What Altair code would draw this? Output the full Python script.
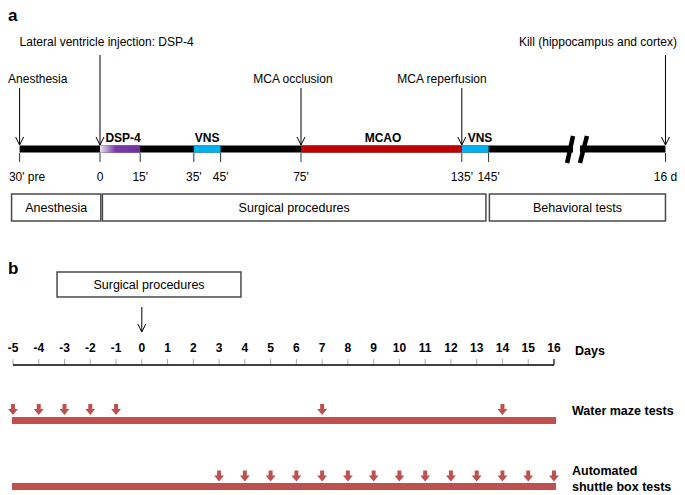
import altair as alt
import pandas as pd

FONT = "Liberation Sans"
W, H = 669, 487

# ---------------- panel a: minutes relative to DSP-4 injection (16 d shown after an axis break)
A_DOMAIN = [-34.33, 215.3]
A_TICKS = [0, 15, 35, 45, 75, 135, 145, 211]
A_TICK_LABELS = ["0", "15'", "35'", "45'", "75'", "135'", "145'", "16 d"]
A_FIRST_TICK = -30
A_FIRST_TICK_LABEL = "30' pre"
A_FIRST_TICK_LABEL_AT = -34.0
A_LINE = [(-30, 176.5), (179.1, 211)]
A_SEGMENTS = ["VNS", "MCAO", "VNS"]
A_SEG_START = [35, 75, 135]
A_SEG_END = [45, 135, 145]
A_SEG_COLORS = ["#00B0F0", "#C00000", "#00B0F0"]
A_DSP = (0, 15)
A_SEG_LABELS = ["DSP-4", "VNS", "MCAO", "VNS"]
A_SEG_LABEL_AT = [8.6, 40, 105.6, 141.8]
A_EVENTS = ["Anesthesia", "Lateral ventricle injection: DSP-4", "MCA occlusion",
            "MCA reperfusion", "Kill (hippocampus and cortex)"]
A_EVENT_AT = [-30, 0, 75, 135, 211]
A_EVENT_LABEL_AT = [-34.3, -30, 72, 127.6, 215.3]
A_EVENT_ALIGN = ["left", "left", "center", "center", "right"]
A_EVENT_LEVEL = ["low", "high", "low", "low", "high"]
A_PHASES = ["Anesthesia", "Surgical procedures", "Behavioral tests"]
A_PHASE_START = [-33, 0.9, 145.3]
A_PHASE_END = [0.3, 144, 211]
A_BREAK_TOP = [176.5, 181.7]
A_BREAK_BOTTOM = [174.3, 179.1]

# ---------------- panel b: days relative to surgery
B_DOMAIN = [-5.194, 20.776]
B_DAYS = list(range(-5, 17))
WATER_MAZE_DAYS = [-5, -4, -3, -2, -1, 7, 14]
SHUTTLE_DAYS = list(range(3, 17))
B_BAR = (-5.04, 16.08)
B_BOX = ("Surgical procedures", -3.29, 3.85)
B_ROW_LABEL_AT = 16.7

# ---------------- vertical layout (rows, px from top of page)
Y_DOMAIN = [8, 495]
ROW = dict(
    a_label=16, ev_high_text=42, ev_high_top=55, ev_low_text=79, ev_low_top=88,
    a_tip=145, seg_label=137.5, bar_top=145.5, bar_bot=152.5,
    tick_top=153, tick_bot=162, tick_label=177, brk_top=136, brk_bot=163,
    box_top=194, box_bot=221, box_text=208,
    b_label=269, b_box_top=272, b_box_bot=297, b_box_text=284.5,
    b_arrow_top=307, b_arrow_tip=332, day_label=348, axis=365, axis_tick=359,
    wm_top=417, wm_bot=424, wm_arrow=409.5, wm_text=411,
    sb_top=483, sb_bot=490, sb_arrow=476, sb_text1=471, sb_text2=487,
)

xa = alt.Scale(domain=A_DOMAIN, nice=False, zero=False)
xb = alt.Scale(domain=B_DOMAIN, nice=False, zero=False)
ys = alt.Scale(domain=Y_DOMAIN, reverse=True, nice=False, zero=False)


def X(field, sc):
    return alt.X(f"{field}:Q", scale=sc, axis=None)


def X2(field):
    return alt.X2(f"{field}:Q")


def Y(field):
    return alt.Y(f"{field}:Q", scale=ys, axis=None)


def Y2(field):
    return alt.Y2(f"{field}:Q")


def text_layer(df, sc, align="center", size=12, weight="normal"):
    return alt.Chart(df).mark_text(font=FONT, fontSize=size, fontWeight=weight, align=align,
                                   baseline="middle", color="black").encode(
        x=X("x", sc), y=Y("y"), text="t:N")


V_HEAD = "M-1,-2L0,0L1,-2"
BLOCK_ARROW = "M-0.36,-1L0.36,-1L0.36,-0.1L0.9,-0.1L0,1L-0.9,-0.1L-0.36,-0.1Z"
RED = "#C0504D"

layers = []

# ===== panel a =====
layers.append(text_layer(pd.DataFrame({"x": [A_DOMAIN[0]], "y": [ROW["a_label"]], "t": ["a"]}),
                         xa, "left", 17, "bold"))

# event arrows
ev = pd.DataFrame({"t": A_EVENTS, "x": A_EVENT_AT, "lx": A_EVENT_LABEL_AT,
                   "align": A_EVENT_ALIGN, "level": A_EVENT_LEVEL})
ev["top"] = [ROW["ev_high_top"] if l == "high" else ROW["ev_low_top"] for l in ev["level"]]
ev["ty"] = [ROW["ev_high_text"] if l == "high" else ROW["ev_low_text"] for l in ev["level"]]
ev["tip"] = ROW["a_tip"]
layers.append(alt.Chart(ev).mark_rule(color="black", strokeWidth=1).encode(
    x=X("x", xa), y=Y("top"), y2=Y2("tip")))
layers.append(alt.Chart(ev).mark_point(shape=V_HEAD, filled=False, color="black", strokeWidth=1,
                                       size=64, opacity=1).encode(x=X("x", xa), y=Y("tip")))
for al in ["left", "center", "right"]:
    sub = ev[ev["align"] == al]
    layers.append(text_layer(pd.DataFrame({"x": sub["lx"], "y": sub["ty"], "t": sub["t"]}), xa, al))

# main black line (with break)
line = pd.DataFrame({"x": [a for a, b in A_LINE], "x2": [b for a, b in A_LINE],
                     "y": ROW["bar_top"], "y2": ROW["bar_bot"]})
layers.append(alt.Chart(line).mark_rect(color="black").encode(
    x=X("x", xa), x2=X2("x2"), y=Y("y"), y2=Y2("y2")))

# DSP-4 gradient
grad = alt.LinearGradient(gradient="linear", x1=0, x2=1, y1=0, y2=0, stops=[
    alt.GradientStop(color="#E8E4F4", offset=0),
    alt.GradientStop(color="#7B3BAE", offset=0.38),
    alt.GradientStop(color="#7030A0", offset=1)])
dsp = pd.DataFrame({"x": [A_DSP[0]], "x2": [A_DSP[1]], "y": [ROW["bar_top"]], "y2": [ROW["bar_bot"]]})
layers.append(alt.Chart(dsp).mark_rect(color=grad).encode(
    x=X("x", xa), x2=X2("x2"), y=Y("y"), y2=Y2("y2")))

seg = pd.DataFrame({"s": A_SEGMENTS, "x": A_SEG_START, "x2": A_SEG_END, "c": A_SEG_COLORS,
                    "y": ROW["bar_top"], "y2": ROW["bar_bot"]})
layers.append(alt.Chart(seg).mark_rect().encode(
    x=X("x", xa), x2=X2("x2"), y=Y("y"), y2=Y2("y2"),
    color=alt.Color("c:N", scale=None)))

layers.append(text_layer(pd.DataFrame({"x": A_SEG_LABEL_AT, "y": ROW["seg_label"], "t": A_SEG_LABELS}),
                         xa, "center", 12, "bold"))

# axis break slashes
brk = pd.DataFrame({"x": A_BREAK_TOP, "x2": A_BREAK_BOTTOM, "y": ROW["brk_top"], "y2": ROW["brk_bot"]})
layers.append(alt.Chart(brk).mark_rule(color="black", strokeWidth=4.5).encode(
    x=X("x", xa), x2=X2("x2"), y=Y("y"), y2=Y2("y2")))

# ticks and tick labels
tk = pd.DataFrame({"x": [A_FIRST_TICK] + A_TICKS, "y": ROW["tick_top"], "y2": ROW["tick_bot"]})
layers.append(alt.Chart(tk).mark_rule(color="#333333", strokeWidth=1).encode(
    x=X("x", xa), y=Y("y"), y2=Y2("y2")))
layers.append(text_layer(pd.DataFrame({"x": A_TICKS, "y": ROW["tick_label"], "t": A_TICK_LABELS}), xa))
layers.append(text_layer(pd.DataFrame({"x": [A_FIRST_TICK_LABEL_AT], "y": [ROW["tick_label"]],
                                       "t": [A_FIRST_TICK_LABEL]}), xa, "left"))

# phase boxes
ph = pd.DataFrame({"t": A_PHASES, "x": A_PHASE_START, "x2": A_PHASE_END,
                   "y": ROW["box_top"], "y2": ROW["box_bot"]})
ph["cx"] = (ph["x"] + ph["x2"]) / 2
ph["ty"] = ROW["box_text"]
layers.append(alt.Chart(ph).mark_rect(fill="white", stroke="#4a4a4a", strokeWidth=1.5).encode(
    x=X("x", xa), x2=X2("x2"), y=Y("y"), y2=Y2("y2")))
layers.append(alt.Chart(ph).mark_text(font=FONT, fontSize=12.5, baseline="middle", color="black").encode(
    x=X("cx", xa), y=Y("ty"), text="t:N"))

# ===== panel b =====
layers.append(text_layer(pd.DataFrame({"x": [B_DOMAIN[0]], "y": [ROW["b_label"]], "t": ["b"]}),
                         xb, "left", 17, "bold"))
bb = pd.DataFrame({"t": [B_BOX[0]], "x": [B_BOX[1]], "x2": [B_BOX[2]],
                   "y": [ROW["b_box_top"]], "y2": [ROW["b_box_bot"]]})
bb["cx"] = (bb["x"] + bb["x2"]) / 2
bb["ty"] = ROW["b_box_text"]
layers.append(alt.Chart(bb).mark_rect(fill="white", stroke="#4a4a4a", strokeWidth=1.5).encode(
    x=X("x", xb), x2=X2("x2"), y=Y("y"), y2=Y2("y2")))
layers.append(alt.Chart(bb).mark_text(font=FONT, fontSize=12.5, baseline="middle", color="black").encode(
    x=X("cx", xb), y=Y("ty"), text="t:N"))

arr = pd.DataFrame({"x": [0], "y": [ROW["b_arrow_top"]], "y2": [ROW["b_arrow_tip"]]})
layers.append(alt.Chart(arr).mark_rule(color="black", strokeWidth=1).encode(
    x=X("x", xb), y=Y("y"), y2=Y2("y2")))
layers.append(alt.Chart(arr).mark_point(shape=V_HEAD, filled=False, color="black", strokeWidth=1,
                                        size=64, opacity=1).encode(x=X("x", xb), y=Y("y2")))

days = pd.DataFrame({"x": B_DAYS, "t": [str(d) for d in B_DAYS], "ly": ROW["day_label"],
                     "y": ROW["axis_tick"], "y2": ROW["axis"]})
layers.append(alt.Chart(days).mark_text(font=FONT, fontSize=12, fontWeight="bold", baseline="middle",
                                        color="black").encode(x=X("x", xb), y=Y("ly"), text="t:N"))
layers.append(alt.Chart(days).mark_rule(color="#aaaaaa", strokeWidth=1).encode(
    x=X("x", xb), y=Y("y"), y2=Y2("y2")))
ax = pd.DataFrame({"x": [B_DAYS[0]], "x2": [B_DAYS[-1]], "y": [ROW["axis"]]})
layers.append(alt.Chart(ax).mark_rule(color="black", strokeWidth=1.3).encode(
    x=X("x", xb), x2=X2("x2"), y=Y("y")))
endt = pd.DataFrame({"x": [B_DAYS[-1]], "y": [ROW["axis_tick"]], "y2": [ROW["axis"]]})
layers.append(alt.Chart(endt).mark_rule(color="black", strokeWidth=1).encode(
    x=X("x", xb), y=Y("y"), y2=Y2("y2")))

rows = pd.DataFrame({"x": [B_BAR[0], B_BAR[0]], "x2": [B_BAR[1], B_BAR[1]],
                     "y": [ROW["wm_top"], ROW["sb_top"]], "y2": [ROW["wm_bot"], ROW["sb_bot"]]})
layers.append(alt.Chart(rows).mark_rect(color=RED).encode(
    x=X("x", xb), x2=X2("x2"), y=Y("y"), y2=Y2("y2")))

tests = pd.DataFrame({"x": WATER_MAZE_DAYS + SHUTTLE_DAYS,
                      "y": [ROW["wm_arrow"]] * len(WATER_MAZE_DAYS) + [ROW["sb_arrow"]] * len(SHUTTLE_DAYS)})
layers.append(alt.Chart(tests).mark_point(shape=BLOCK_ARROW, filled=True, color=RED, size=121,
                                          opacity=1, strokeWidth=0).encode(x=X("x", xb), y=Y("y")))

rlab = pd.DataFrame({"x": [B_ROW_LABEL_AT] * 3, "y": [ROW["wm_text"], ROW["sb_text1"], ROW["sb_text2"]],
                     "t": ["Water maze tests", "Automated", "shuttle box tests"]})
layers.append(text_layer(rlab, xb, "left", 12.5, "bold"))
layers.append(text_layer(pd.DataFrame({"x": [17.4], "y": [351], "t": ["Days"]}), xb, "center", 12.5, "bold"))

chart = alt.layer(*layers).resolve_scale(x="independent").properties(
    width=W, height=H, padding=0,
    autosize=alt.AutoSizeParams(type="none"),
).configure_view(stroke=None)

chart.save("out.html", embed_options={"renderer": "svg", "actions": False})
